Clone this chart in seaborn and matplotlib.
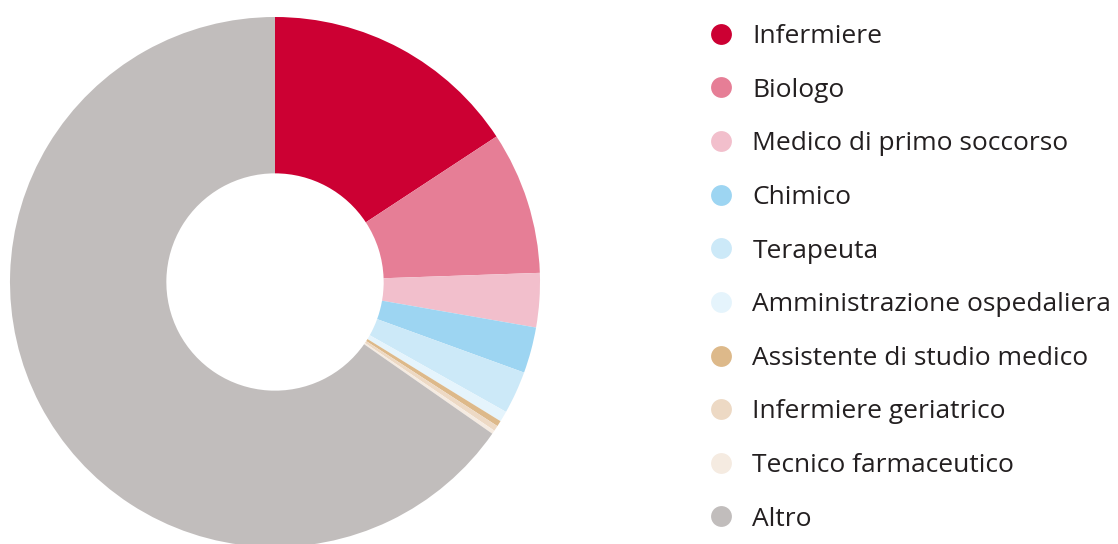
import matplotlib.pyplot as plt
import seaborn as sns
from matplotlib.lines import Line2D

sns.set_theme(style="white")
plt.rcParams['font.family'] = ['Open Sans', 'DejaVu Sans']

# Data (share in %)
labels = ['Infermiere', 'Biologo', 'Medico di primo soccorso', 'Chimico', 'Terapeuta',
          'Amministrazione ospedaliera', 'Assistente di studio medico',
          'Infermiere geriatrico', 'Tecnico farmaceutico', 'Altro']
values = [15.75, 8.7, 3.3, 2.8, 2.6, 0.65, 0.35, 0.33, 0.22, 65.3]
colors = ['#CC0033', '#E67E96', '#F2BFCC', '#9DD5F2', '#CCE9F8',
          '#E5F4FC', '#DDB98A', '#EDD9C4', '#F5EBE1', '#C1BDBC']

fig = plt.figure(figsize=(11.18, 5.44), dpi=100)
ax = fig.add_axes([10 / 1118, -3 / 544, 530 / 1118, 530 / 544])

ax.pie(values, colors=colors, startangle=90, counterclock=False,
       wedgeprops=dict(width=0.59, linewidth=0))
ax.set_xlim(-1, 1)
ax.set_ylim(-1, 1)
ax.set_aspect('equal')
ax.axis('off')

handles = [Line2D([], [], marker='o', linestyle='', markersize=15,
                  markerfacecolor=c, markeredgewidth=0) for c in colors]
leg = fig.legend(handles, labels, loc='upper left', bbox_to_anchor=(689 / 1118, 0.985),
                 frameon=False, fontsize=19, labelspacing=1.085, handletextpad=0.6,
                 handlelength=1.2, borderaxespad=0.2)
for t in leg.get_texts():
    t.set_color('#231F20')

fig.savefig('out.png', dpi=100)
